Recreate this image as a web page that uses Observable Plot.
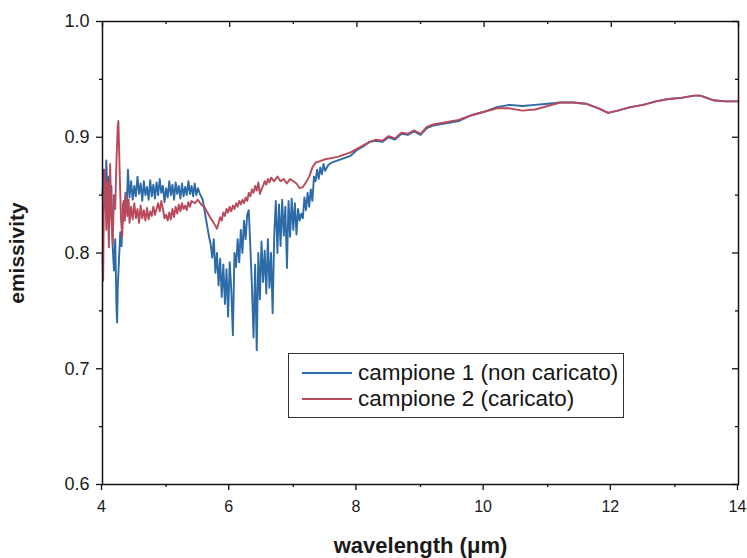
<!DOCTYPE html>
<html>
<head>
<meta charset="utf-8">
<script src="https://cdn.jsdelivr.net/npm/d3@7"></script>
<script src="https://cdn.jsdelivr.net/npm/@observablehq/plot@0.6"></script>
<style>
  html, body { margin: 0; padding: 0; background: #fff; }
  #wrap { position: relative; width: 747px; height: 558px; font-family: "Liberation Sans", Arial, sans-serif; }
  #legend { position: absolute; left: 288px; top: 353px; width: 336px; height: 65px; border: 1px solid #333; background: #fff; box-sizing: border-box; }
  .row { position: absolute; left: 0; height: 26px; display: flex; align-items: center; }
  .swatch { width: 50px; height: 0; border-top: 2px solid; margin-left: 13px; margin-right: 6px; }
  .lbl { font-size: 22.5px; color: #151515; white-space: nowrap; }
</style>
</head>
<body>
<div id="wrap"></div>
<script>
// ---- data ----
const seriesNames = ["campione 1 (non caricato)", "campione 2 (caricato)"];
const seriesColors = ["#2c6aa8", "#b84a5c"];

const wl1 = [4.00,4.02,4.04,4.06,4.08,4.10,4.12,4.14,4.16,4.18,4.20,4.22,4.23,4.24,4.26,4.28,4.30,4.32,4.34,4.36,4.38,4.40,
  4.425,4.45,4.475,4.50,4.525,4.55,4.575,4.60,4.625,4.65,4.675,4.70,4.725,4.75,4.775,4.80,4.825,4.85,4.875,4.90,4.925,4.95,4.975,
  5.00,5.025,5.05,5.075,5.10,5.125,5.15,5.175,5.20,5.225,5.25,5.275,5.30,5.325,5.35,5.375,5.40,5.425,5.45,5.475,5.50,5.525,5.55,5.575,5.60,
  5.625,5.65,5.675,5.70,5.725,5.75,5.775,5.80,5.825,5.85,5.875,5.90,5.925,5.95,5.975,6.00,6.025,6.05,6.075,6.10,6.125,6.15,6.175,6.20,6.225,6.25,6.275,6.30,
  6.325,6.35,6.375,6.40,6.425,6.45,6.475,6.50,6.525,6.55,6.575,6.60,6.625,6.65,6.675,6.70,6.725,6.75,6.775,6.80,6.825,6.85,6.875,6.90,6.925,6.95,6.975,
  7.00,7.025,7.05,7.075,7.10,7.125,7.15,7.175,7.20,7.225,7.25,7.275,7.30,7.325,7.35,7.375,7.40,7.425,7.45,7.475,7.50,7.55,7.60,7.70,7.80,7.90,
  8.00,8.10,8.20,8.30,8.40,8.50,8.60,8.70,8.80,8.90,9.00,9.10,9.20,9.40,9.60,9.80,10.0,10.2,10.4,10.6,10.8,11.0,11.2,11.4,11.6,11.8,11.95,
  12.1,12.3,12.5,12.7,12.9,13.1,13.3,13.4,13.5,13.6,13.8,14.0];
const em1 = [0.850,0.872,0.838,0.880,0.845,0.866,0.832,0.858,0.806,0.785,0.812,0.752,0.740,0.770,0.795,0.818,0.806,0.842,0.828,0.852,0.838,0.872,
  0.848,0.862,0.846,0.858,0.849,0.866,0.851,0.860,0.845,0.862,0.850,0.857,0.846,0.863,0.849,0.859,0.847,0.861,0.850,0.864,0.852,0.858,0.844,
  0.856,0.848,0.862,0.850,0.859,0.846,0.861,0.851,0.858,0.847,0.860,0.849,0.857,0.850,0.862,0.851,0.858,0.849,0.860,0.850,0.856,0.852,0.849,0.846,0.838,
  0.830,0.822,0.814,0.808,0.796,0.812,0.783,0.800,0.772,0.795,0.762,0.790,0.756,0.786,0.745,0.792,0.768,0.729,0.800,0.788,0.812,0.792,0.820,0.800,0.828,0.812,0.833,0.837,
  0.805,0.770,0.727,0.790,0.716,0.800,0.760,0.810,0.775,0.802,0.765,0.812,0.770,0.800,0.748,0.815,0.845,0.800,0.842,0.806,0.846,0.815,0.840,0.787,0.845,0.814,0.847,
  0.820,0.843,0.816,0.838,0.828,0.834,0.830,0.848,0.837,0.852,0.840,0.855,0.845,0.866,0.862,0.872,0.864,0.874,0.868,0.877,0.871,0.876,0.878,0.880,0.882,0.884,
  0.889,0.892,0.896,0.897,0.896,0.900,0.898,0.903,0.902,0.905,0.902,0.908,0.910,0.912,0.914,0.919,0.922,0.926,0.928,0.927,0.928,0.929,0.930,0.930,0.929,0.925,0.921,
  0.923,0.926,0.928,0.931,0.933,0.934,0.936,0.936,0.934,0.932,0.931,0.931];

const wl2 = [4.00,4.01,4.02,4.04,4.06,4.08,4.10,4.12,4.14,4.16,4.18,4.20,4.22,4.24,4.25,4.27,4.29,4.31,4.33,4.35,4.37,4.39,4.41,
  4.425,4.45,4.475,4.50,4.525,4.55,4.575,4.60,4.625,4.65,4.675,4.70,4.725,4.75,4.775,4.80,4.825,4.85,4.875,4.90,4.925,4.95,4.975,
  5.00,5.025,5.05,5.075,5.10,5.125,5.15,5.175,5.20,5.225,5.25,5.275,5.30,5.325,5.35,5.375,5.40,5.45,5.50,5.55,5.60,5.65,5.70,5.75,5.80,
  5.825,5.85,5.875,5.90,5.925,5.95,5.975,6.00,6.025,6.05,6.075,6.10,6.125,6.15,6.175,6.20,6.225,6.25,6.275,6.30,6.325,6.35,6.375,6.40,6.425,6.45,6.475,
  6.50,6.525,6.55,6.575,6.60,6.625,6.65,6.70,6.75,6.80,6.85,6.90,6.95,7.00,7.05,7.10,7.15,7.20,7.25,7.30,7.35,7.40,7.50,7.60,7.70,7.80,7.90,
  8.00,8.10,8.20,8.30,8.40,8.50,8.60,8.70,8.80,8.90,9.00,9.10,9.20,9.40,9.60,9.80,10.0,10.2,10.4,10.6,10.8,11.0,11.2,11.4,11.6,11.8,11.95,
  12.1,12.3,12.5,12.7,12.9,13.1,13.3,13.4,13.5,13.6,13.8,14.0];
const em2 = [0.800,0.776,0.835,0.872,0.820,0.862,0.805,0.877,0.830,0.808,0.850,0.838,0.880,0.910,0.914,0.870,0.830,0.814,0.845,0.828,0.851,0.832,0.846,
  0.826,0.840,0.829,0.843,0.830,0.838,0.826,0.841,0.830,0.837,0.828,0.839,0.829,0.836,0.832,0.840,0.833,0.838,0.843,0.836,0.845,0.838,0.830,
  0.833,0.828,0.835,0.829,0.838,0.831,0.840,0.834,0.842,0.836,0.843,0.838,0.841,0.837,0.844,0.840,0.845,0.843,0.846,0.842,0.840,0.835,0.830,0.826,0.821,
  0.826,0.831,0.828,0.835,0.832,0.838,0.835,0.840,0.836,0.841,0.838,0.843,0.840,0.845,0.842,0.846,0.843,0.848,0.845,0.852,0.849,0.855,0.852,0.858,0.854,0.861,0.851,
  0.855,0.858,0.862,0.859,0.864,0.861,0.865,0.862,0.866,0.862,0.864,0.860,0.864,0.862,0.860,0.856,0.857,0.861,0.866,0.874,0.878,0.879,0.881,0.882,0.883,0.885,0.887,
  0.890,0.893,0.896,0.898,0.897,0.901,0.899,0.904,0.903,0.906,0.903,0.909,0.911,0.913,0.915,0.919,0.922,0.925,0.925,0.923,0.924,0.927,0.930,0.930,0.929,0.925,0.921,
  0.923,0.926,0.928,0.931,0.933,0.934,0.936,0.936,0.934,0.932,0.931,0.931];

const xMajor = [4, 6, 8, 10, 12, 14];
const xMinor = [5, 7, 9, 11, 13];
const yMajor = [0.6, 0.7, 0.8, 0.9, 1.0];
const yMinor = [0.65, 0.75, 0.85, 0.95];
const xTitle = "wavelength (\u03bcm)";
const yTitle = "emissivity";

// ---- build table ----
const s1 = wl1.map((w, i) => ({w, e: em1[i], s: seriesNames[0]}));
const s2 = wl2.map((w, i) => ({w, e: em2[i], s: seriesNames[1]}));

const W = 747, H = 558, mL = 102, mR = 9, mT = 21, mB = 74;
const frameW = W - mL - mR, frameH = H - mT - mB;

const chart = Plot.plot({
  width: W, height: H,
  marginLeft: mL, marginRight: mR, marginTop: mT, marginBottom: mB,
  style: { fontFamily: "Liberation Sans, Arial, sans-serif", fontSize: "18px", color: "#1a1a1a", background: "#fff" },
  x: { domain: [4, 14] },
  y: { domain: [0.6, 1.0] },
  marks: [
    Plot.lineY(s1, { x: "w", y: "e", stroke: seriesColors[0], strokeWidth: 1.9 }),
    Plot.lineY(s2, { x: "w", y: "e", stroke: seriesColors[1], strokeWidth: 1.9 }),
    Plot.frame({ stroke: "#111", strokeWidth: 1.5 }),
    Plot.axisX({ ticks: xMajor, tickSize: 6, tickPadding: 10, fontSize: 16, dx: -1, tickFormat: d => String(d), label: null, stroke: "#111", strokeWidth: 1.3 }),
    Plot.axisX({ ticks: xMinor, tickSize: 3, tickFormat: () => "", label: null, stroke: "#111", strokeWidth: 1.3 }),
    Plot.axisY({ ticks: yMajor, tickSize: 6, tickPadding: 7, tickFormat: d3.format(".1f"), label: null, stroke: "#111", strokeWidth: 1.3 }),
    Plot.axisY({ ticks: yMinor, tickSize: 3, tickFormat: () => "", label: null, stroke: "#111", strokeWidth: 1.3 }),
    Plot.tickX(xMajor, { x: d => d, insetBottom: frameH - 6, stroke: "#111", strokeWidth: 1.3 }),
    Plot.tickX(xMinor, { x: d => d, insetBottom: frameH - 3, stroke: "#111", strokeWidth: 1.3 }),
    Plot.tickY(yMajor, { y: d => d, insetLeft: frameW - 6, stroke: "#111", strokeWidth: 1.3 }),
    Plot.tickY(yMinor, { y: d => d, insetLeft: frameW - 3, stroke: "#111", strokeWidth: 1.3 }),
    Plot.text([yTitle], { frameAnchor: "left", dx: -85, rotate: -90, textAnchor: "middle", lineAnchor: "middle", fontWeight: "bold", fontSize: 21, fill: "#1a1a1a" }),
    Plot.text([xTitle], { frameAnchor: "bottom", dy: 61, textAnchor: "middle", lineAnchor: "middle", fontWeight: "bold", fontSize: 22, fill: "#1a1a1a" })
  ]
});

const wrap = document.getElementById("wrap");
wrap.appendChild(chart);

// ---- legend ----
const legend = document.createElement("div");
legend.id = "legend";
seriesNames.forEach((name, i) => {
  const row = document.createElement("div");
  row.className = "row";
  row.style.top = (6 + i * 26) + "px";
  const sw = document.createElement("div");
  sw.className = "swatch";
  sw.style.borderTopColor = seriesColors[i];
  const lb = document.createElement("span");
  lb.className = "lbl";
  lb.textContent = name;
  row.appendChild(sw);
  row.appendChild(lb);
  legend.appendChild(row);
});
wrap.appendChild(legend);
</script>
</body>
</html>
